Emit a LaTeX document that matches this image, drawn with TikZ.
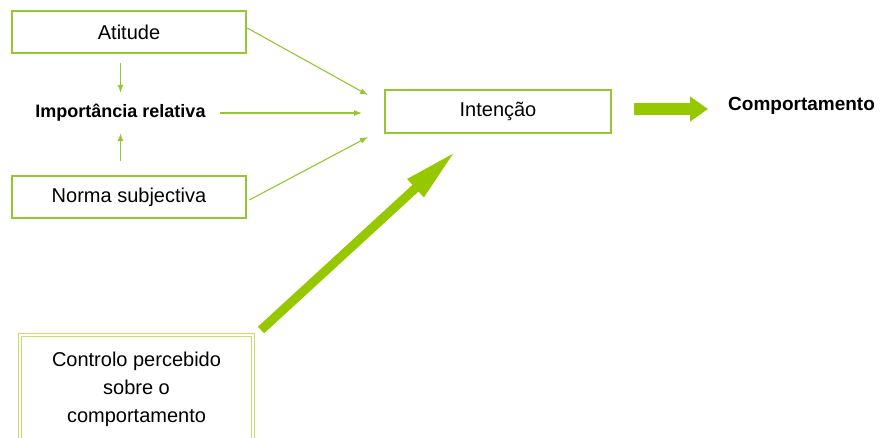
\documentclass[tikz,border=0pt]{standalone}
\usepackage{fontspec}
\setmainfont{Liberation Sans}
\usetikzlibrary{arrows.meta}
\definecolor{boxgreen}{RGB}{150,198,50}
\definecolor{arrowgreen}{RGB}{150,200,0}
\definecolor{palegreen}{RGB}{198,224,100}
\tikzset{
  box/.style={draw=boxgreen, line width=2.5pt, rectangle, inner sep=0pt, font=\fontsize{20}{24}\selectfont},
  thinarrow/.style={draw=boxgreen, line width=1.1pt, -{Latex[length=8pt,width=6pt]}},
  bigarrow/.style={draw=arrowgreen, line width=12pt, -{Triangle[length=18pt,width=24pt]}},
  diagarrow/.style={draw=arrowgreen, line width=9pt, -{Triangle[length=55pt,width=22pt]}},
  boldlabel/.style={font=\bfseries\fontsize{18}{22}\selectfont, inner sep=0pt}
}
\begin{document}
\begin{tikzpicture}[x=1pt,y=-1pt]
\useasboundingbox[fill=white] (0,0) rectangle (888,437);
\node[box, minimum width=234pt, minimum height=42pt] (atitude) at (129,32) {Atitude};
\node[box, minimum width=234pt, minimum height=42pt] (norma) at (129,197) {Norma subjectiva};
\node[boldlabel, minimum height=40pt] (imp) at (120.5,113) {Importância relativa};
\node[box, minimum width=226pt, minimum height=43pt] (int) at (498,111.5) {Intenção};
\node[font=\bfseries\fontsize{19}{22}\selectfont, anchor=west, inner sep=0pt] (comp) at (728,106) {Comportamento};
\node[draw=palegreen, double=white, double distance=1.8pt, line width=1.5pt, rectangle,
      minimum width=233pt, minimum height=108pt, align=center,
      font=\fontsize{20}{28}\selectfont] (ctrl) at (136.5,389)
      {Controlo percebido\\sobre o\\comportamento};
\coordinate (ia) at (368,95);
\coordinate (ib) at (362,113);
\coordinate (ic) at (368,137);
\coordinate (ds) at (261,330);
\coordinate (dt) at (456,151);
\coordinate (hs) at (634,109);
\coordinate (ht) at (708,109);
\draw[thinarrow, shorten <=9pt] (imp.north |- atitude.south) -- (imp.north);
\draw[thinarrow, shorten <=14pt] (imp.south |- norma.north) -- (imp.south);
\draw[thinarrow, shorten <=14pt] (imp.east) -- (ib);
\draw[thinarrow] ([yshift=4pt]atitude.east) -- (ia);
\draw[thinarrow] ([xshift=2pt,yshift=-3pt]norma.east) -- (ic);
\draw[diagarrow] (ds) -- (dt);
\draw[bigarrow] (hs) -- (ht);
\end{tikzpicture}
\end{document}
